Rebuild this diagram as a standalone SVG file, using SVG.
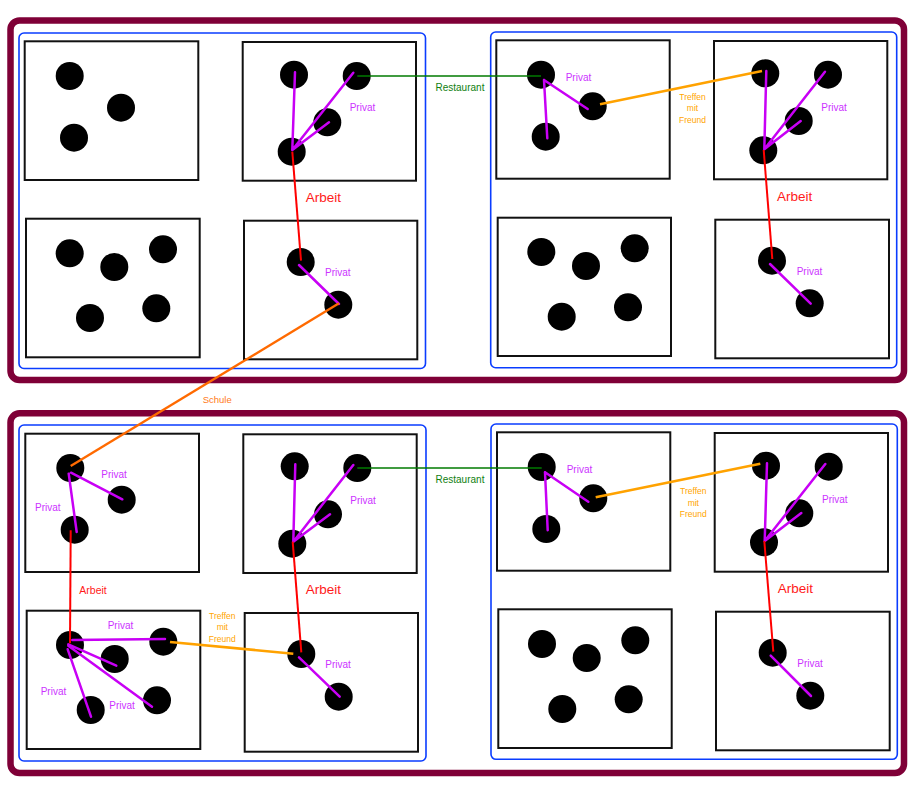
<svg xmlns="http://www.w3.org/2000/svg" width="923" height="800" viewBox="0 0 923 800">
<style>
.panel{fill:none;stroke:#7f0037;stroke-width:6.5}
.grp{fill:none;stroke:#0a3cff;stroke-width:1.6}
.box{fill:#fff;stroke:#111;stroke-width:2}
circle{fill:#000}
.pv{stroke:#c800f5;stroke-width:2.5;fill:none;stroke-linecap:round}
.ar{stroke:#ff0000;stroke-width:2;fill:none}
.gr{stroke:#007a00;stroke-width:1.6;fill:none}
.or{stroke:#ffa200;stroke-width:2.6;fill:none}
.sc{stroke:#ff6a00;stroke-width:2.4;fill:none}
text{font-family:"Liberation Sans",Arial,sans-serif}
.tp{fill:#cc33ff;font-size:10px}
.ta{fill:#ff1a1a;font-size:13.5px}
.tas{fill:#ff1a1a;font-size:10.5px}
.tg{fill:#108010;font-size:10px}
.to{fill:#ffa500;font-size:8.5px;text-anchor:middle}
.ts{fill:#ff7a20;font-size:9.5px}
</style>
<rect width="923" height="800" fill="#fff"/>

<g id="panel-top">
<rect class="panel" x="10.5" y="20.5" width="893.5" height="359.5" rx="9"/>
<rect class="grp" x="19" y="33" width="406.5" height="335.5" rx="5"/>
<rect class="grp" x="490.7" y="32" width="406" height="335.7" rx="5"/>
</g>
<g id="panel-bottom">
<rect class="panel" x="10.5" y="413.3" width="893.5" height="359.7" rx="9"/>
<rect class="grp" x="19" y="425" width="407" height="336" rx="5"/>
<rect class="grp" x="491" y="424" width="406.3" height="335.3" rx="5"/>
</g>

<!-- top-left group -->
<g id="t-a"><rect class="box" x="24.7" y="41.3" width="173.6" height="138.7"/>
<circle cx="69.7" cy="76" r="14"/><circle cx="121" cy="107.7" r="14"/><circle cx="74" cy="137.7" r="14"/></g>
<g id="t-b"><rect class="box" x="242.7" y="42" width="173.3" height="138.7"/>
<circle cx="294" cy="74.7" r="14"/><circle cx="356.7" cy="76" r="14"/><circle cx="327.3" cy="122.3" r="14"/><circle cx="291.7" cy="151.7" r="14"/></g>
<g id="t-c"><rect class="box" x="26" y="218.7" width="173.7" height="138.6"/>
<circle cx="69.7" cy="253.3" r="14"/><circle cx="114.3" cy="267" r="14"/><circle cx="163" cy="249.3" r="14"/><circle cx="90" cy="318" r="14"/><circle cx="156.3" cy="308.3" r="14"/></g>
<g id="t-d"><rect class="box" x="244" y="220.7" width="173.3" height="138.6"/>
<circle cx="300.7" cy="262" r="14"/><circle cx="338.3" cy="304.7" r="14"/></g>

<!-- top-right group -->
<g id="t-e"><rect class="box" x="496.3" y="40.3" width="173.4" height="138.4"/>
<circle cx="541" cy="74.7" r="14"/><circle cx="592.7" cy="106.3" r="14"/><circle cx="545.7" cy="136.7" r="14"/></g>
<g id="t-f"><rect class="box" x="714" y="41" width="173.3" height="138.3"/>
<circle cx="765.3" cy="73.3" r="14"/><circle cx="828" cy="74.7" r="14"/><circle cx="798.7" cy="121" r="14"/><circle cx="763.3" cy="150.3" r="14"/></g>
<g id="t-g"><rect class="box" x="497.7" y="217.7" width="173.3" height="138.3"/>
<circle cx="541.3" cy="252" r="14"/><circle cx="586" cy="266" r="14"/><circle cx="634.7" cy="248.3" r="14"/><circle cx="561.7" cy="316.7" r="14"/><circle cx="628" cy="307.3" r="14"/></g>
<g id="t-h"><rect class="box" x="715.3" y="219.7" width="173.7" height="138.6"/>
<circle cx="772" cy="260.7" r="14"/><circle cx="809.7" cy="303.3" r="14"/></g>

<!-- bottom-left group -->
<g id="b-a"><rect class="box" x="25.3" y="433.7" width="173.7" height="138.3"/>
<circle cx="70.3" cy="468" r="14"/><circle cx="121.7" cy="499.7" r="14"/><circle cx="74.7" cy="529.7" r="14"/></g>
<g id="b-b"><rect class="box" x="243.3" y="434.3" width="173.4" height="138.7"/>
<circle cx="294.7" cy="466.3" r="14"/><circle cx="357.3" cy="468" r="14"/><circle cx="328" cy="514.3" r="14"/><circle cx="292.3" cy="543.7" r="14"/></g>
<g id="b-c"><rect class="box" x="26.7" y="610.7" width="173.6" height="138.3"/>
<circle cx="70" cy="645" r="14"/><circle cx="114.7" cy="659" r="14"/><circle cx="163.3" cy="641.7" r="14"/><circle cx="90.7" cy="710" r="14"/><circle cx="157" cy="700.3" r="14"/></g>
<g id="b-d"><rect class="box" x="244.7" y="613" width="173.3" height="138.7"/>
<circle cx="301.3" cy="654" r="14"/><circle cx="338.7" cy="696.7" r="14"/></g>

<!-- bottom-right group -->
<g id="b-e"><rect class="box" x="497" y="432.3" width="173.3" height="138.4"/>
<circle cx="541.7" cy="467" r="14"/><circle cx="593.3" cy="498.3" r="14"/><circle cx="546.3" cy="529" r="14"/></g>
<g id="b-f"><rect class="box" x="714.7" y="433" width="173.3" height="138.7"/>
<circle cx="766" cy="465.7" r="14"/><circle cx="828.7" cy="466.7" r="14"/><circle cx="799.3" cy="513.3" r="14"/><circle cx="764" cy="542.3" r="14"/></g>
<g id="b-g"><rect class="box" x="498.3" y="609.3" width="173.4" height="138.7"/>
<circle cx="542" cy="644" r="14"/><circle cx="586.7" cy="658" r="14"/><circle cx="635.3" cy="640.3" r="14"/><circle cx="562.3" cy="709" r="14"/><circle cx="628.7" cy="699.3" r="14"/></g>
<g id="b-h"><rect class="box" x="716" y="611.7" width="173.7" height="138.6"/>
<circle cx="772.7" cy="652.7" r="14"/><circle cx="810.3" cy="695.7" r="14"/></g>

<g id="connectors">
<!-- top -->
<path class="pv" d="M292.3 150L295 72.3M292.3 150L353.3 72.7M292.3 150L329 122.3"/>
<path class="gr" d="M357.3 76H541"/>
<path class="ar" d="M292.3 151.7L301 260.7"/>
<path class="pv" d="M299 265L339 304"/>
<path class="sc" d="M339 303.3L70.7 466"/>
<path class="pv" d="M544 80L587.7 109M544 80L547.3 138.3"/>
<path class="or" d="M600 104.3L762 71"/>
<path class="pv" d="M764.3 149.3L766.3 71M764.3 149.3L825 71.7M764.3 149.3L800.7 121"/>
<path class="ar" d="M763.7 150L772.3 259"/>
<path class="pv" d="M770 264L810.7 303.7"/>
<!-- bottom -->
<path class="pv" d="M71 472.7L122.3 499.3M68.7 473.7L76.7 532"/>
<path class="ar" d="M70.7 530.3L70 643.3"/>
<path class="pv" d="M72.3 640L165 639M68.3 644.3L116.3 665.7M68.3 645.7L152 706.7M67.7 649.3L91 716.7"/>
<path class="or" d="M170 642L293.3 653.7"/>
<path class="pv" d="M293.3 541.7L295.3 464.3M293.3 541.7L353.3 465M293.3 541.7L330 514.3"/>
<path class="gr" d="M357.3 468H541.7"/>
<path class="ar" d="M292.7 541.7L301.3 652.3"/>
<path class="pv" d="M299 657.3L339.7 696.7"/>
<path class="pv" d="M545 472.3L588.3 501.7M545 472.3L547.7 530.3"/>
<path class="or" d="M595.7 497.3L760.3 463.7"/>
<path class="pv" d="M764.7 541L767 463.3M764.7 541L825.3 464M764.7 541L801.3 513"/>
<path class="ar" d="M764.3 541L773.3 651.7"/>
<path class="pv" d="M770.7 655.7L811 696"/>
</g>

<g id="labels">
<text class="tp" x="349.7" y="111">Privat</text>
<text class="ta" x="305.7" y="202">Arbeit</text>
<text class="tp" x="325" y="276">Privat</text>
<text class="tg" x="435.5" y="90.5">Restaurant</text>
<text class="tp" x="565.7" y="81">Privat</text>
<text class="to" x="692.5" y="99.5">Treffen</text>
<text class="to" x="692.5" y="111">mit</text>
<text class="to" x="692.5" y="122.5">Freund</text>
<text class="tp" x="821.3" y="110.5">Privat</text>
<text class="ta" x="777" y="201">Arbeit</text>
<text class="tp" x="796.7" y="274.5">Privat</text>
<text class="ts" x="202.7" y="402.5">Schule</text>

<text class="tp" x="101.3" y="477.5">Privat</text>
<text class="tp" x="35" y="511">Privat</text>
<text class="tas" x="79.3" y="594">Arbeit</text>
<text class="tp" x="107.7" y="628.5">Privat</text>
<text class="tp" x="40.7" y="695">Privat</text>
<text class="tp" x="109.3" y="709">Privat</text>
<text class="to" x="222.3" y="618.5">Treffen</text>
<text class="to" x="222.3" y="630">mit</text>
<text class="to" x="222.3" y="641.5">Freund</text>
<text class="tp" x="350.3" y="503.5">Privat</text>
<text class="tg" x="435.5" y="482.5">Restaurant</text>
<text class="ta" x="305.7" y="594">Arbeit</text>
<text class="tp" x="325.3" y="667.5">Privat</text>
<text class="tp" x="566.7" y="473">Privat</text>
<text class="to" x="693.3" y="494">Treffen</text>
<text class="to" x="693.3" y="505.5">mit</text>
<text class="to" x="693.3" y="517">Freund</text>
<text class="tp" x="822" y="502.5">Privat</text>
<text class="ta" x="777.7" y="593">Arbeit</text>
<text class="tp" x="797.3" y="667">Privat</text>
</g>
</svg>
